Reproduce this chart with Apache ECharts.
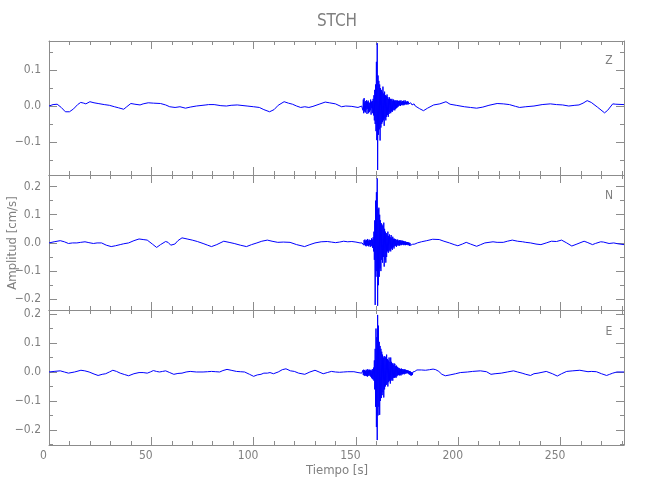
<!DOCTYPE html>
<html>
<head>
<meta charset="utf-8">
<script src="https://cdn.jsdelivr.net/npm/echarts@6/dist/echarts.min.js"></script>
<style>
html,body{margin:0;padding:0;background:#fff;}
#chart{width:650px;height:500px;}
</style>
</head>
<body>
<div id="chart"></div>
<script>
// ---------- data ----------
const stationName = 'STCH';
const componentNames = ['Z', 'N', 'E'];
const xRange = [0, 281];
const xMajorTicks = [0, 50, 100, 150, 200, 250];
const xMinorTicks = [10, 20, 30, 40, 60, 70, 80, 90, 110, 120, 130, 140, 160, 170, 180, 190, 210, 220, 230, 240, 260, 270, 280];

const zRange = [-0.192, 0.181];
const nRange = [-0.238, 0.241];
const eRange = [-0.252, 0.214];
const zMajorTicks = [-0.1, 0, 0.1];
const zMinorTicks = [-0.15, -0.05, 0.05, 0.15];
const nMajorTicks = [-0.2, -0.1, 0, 0.1, 0.2];
const nMinorTicks = [-0.15, -0.05, 0.05, 0.15];
const eMajorTicks = [-0.2, -0.1, 0, 0.1, 0.2];
const eMinorTicks = [-0.25, -0.15, -0.05, 0.05, 0.15];

// event window sampled every 0.2 s from 153 s
const eventStart = 153;
const eventStep = 0.2;

// ---- Z component ----
const zBefore = [[0,0.0],[2,0.004],[4,0.005],[6,-0.004],[8,-0.016],[10,-0.016],[12,-0.008],[14,0.004],[15.5,0.01],[17,0.008],[18,0.006],[20,0.012],[22,0.009],[24,0.007],[27,0.004],[29.5,0.002],[32,-0.002],[34,-0.005],[36.5,-0.009],[38,-0.002],[40,0.007],[42,0.005],[44.5,0.003],[46,0.006],[48.5,0.009],[51,0.008],[54.5,0.007],[57,0.003],[59,-0.002],[61.6,-0.004],[64,-0.002],[66.7,-0.006],[69,-0.003],[72,0.0],[76.7,0.003],[78,0.004],[80.7,0.004],[84,0.001],[86.7,0.0],[89,0.002],[92,0.003],[96.8,0.0],[100,-0.002],[102.8,-0.004],[105,-0.01],[107.8,-0.016],[110,-0.01],[112,0.002],[114.9,0.012],[117,0.008],[119,0.005],[121,0.0],[123,-0.004],[125,-0.002],[127,-0.004],[129,-0.001],[132,0.005],[135,0.011],[137,0.009],[140,0.006],[143,-0.002],[145,0.0],[148,-0.001],[151,-0.004],[152.8,0.0]];
const zEvent = [
 0.0, 0.004, -0.012, 0.018, -0.02, 0.022, -0.015, 0.01, -0.018, 0.014,
 -0.01, 0.016, -0.022, 0.012, -0.008, 0.015, -0.02, 0.01, -0.016, 0.008,
 -0.012, 0.018, -0.024, 0.012, -0.006, 0.014, -0.02, 0.02, -0.026, 0.03,
 -0.04, 0.045, -0.05, 0.06, -0.07, 0.123, -0.095, 0.175, -0.178, 0.085,
 -0.08, 0.07, -0.065, 0.06, -0.096, 0.05, -0.06, 0.045, -0.05, 0.04,
 -0.045, 0.054, -0.04, 0.035, -0.055, 0.04, -0.035, 0.03, -0.04, 0.028,
 -0.03, 0.032, -0.025, 0.025, -0.03, 0.02, -0.022, 0.024, -0.018, 0.02,
 -0.02, 0.018, -0.015, 0.02, -0.016, 0.015, -0.012, 0.018, -0.01, 0.015,
 -0.012, 0.016, -0.008, 0.014, -0.006, 0.016, -0.004, 0.015, -0.002, 0.014,
 0.0, 0.015, 0.002, 0.014, 0.0, 0.016, 0.003, 0.012, 0.002, 0.014,
 0.004, 0.015, 0.002, 0.012, 0.004, 0.016, 0.005, 0.013, 0.004, 0.012,
 0.006, 0.013, 0.004, 0.012, 0.006, 0.011, 0.004, 0.01, 0.005, 0.009,
 0.004, 0.01, 0.003, 0.008, 0.004, 0.007, 0.002, 0.006, 0.001, 0.004,
 0.0, 0.003, -0.002, 0.001, -0.004, -0.003];
const zAfter = [[181,-0.007],[183,-0.013],[185,-0.006],[188,0.003],[191,0.006],[194,0.012],[196,0.005],[199,0.002],[203,-0.002],[206,-0.004],[209,-0.006],[212,-0.003],[215,0.002],[219,0.007],[222,0.006],[225,0.004],[228,-0.001],[230,-0.004],[233,-0.002],[237,0.0],[241,0.004],[245,0.006],[248,0.004],[251,0.003],[254,0.0],[257,0.002],[259,0.003],[261,0.008],[263,0.015],[265,0.01],[268,-0.003],[271.5,-0.019],[273,-0.012],[275.5,0.006],[277,0.005],[281,0.004]];

// ---- N component ----
const nBefore = [[0,0.0],[2.5,0.004],[5.5,0.008],[7.5,0.004],[9.5,-0.002],[11.5,0.0],[13.6,0.0],[15.5,0.002],[17.6,0.004],[19.5,0.001],[21.7,-0.002],[23.5,0.0],[25.7,0.0],[28,-0.008],[30.4,-0.013],[32.5,-0.01],[34.8,-0.006],[36.5,-0.003],[38.9,0.0],[41.5,0.008],[44,0.014],[46,0.012],[48,0.01],[50.5,-0.004],[52.6,-0.016],[54.5,-0.006],[57,0.005],[58.2,0.002],[59.5,-0.008],[61.5,-0.004],[63,0.008],[65,0.018],[67.5,0.014],[70,0.01],[72.5,0.005],[75.3,-0.002],[77.5,-0.008],[79.4,-0.013],[82,-0.006],[85.4,0.006],[88,0.002],[90.5,-0.002],[93.5,-0.008],[96.5,-0.013],[99,-0.006],[101.6,0.0],[104,0.006],[106.7,0.01],[109,0.006],[111.8,0.002],[114.5,0.003],[117.8,0.002],[121,-0.006],[124.9,-0.013],[127.5,-0.006],[130,0.0],[133,0.004],[136,0.005],[138,0.003],[140,0.001],[142,0.003],[144,0.006],[146,0.004],[148,0.005],[150,0.003],[152,0.0]];
const nEvent = [
 0.0, -0.002, 0.003, 0.006, -0.008, 0.01, -0.006, 0.012, -0.01, 0.008,
 -0.012, 0.01, -0.008, 0.014, -0.01, 0.008, -0.012, 0.012, -0.008, 0.01,
 -0.014, 0.01, -0.01, 0.016, -0.012, 0.012, -0.018, 0.02, -0.03, 0.04,
 -0.06, 0.08, -0.22, 0.15, -0.12, 0.18, -0.1, 0.229, -0.223, 0.12,
 -0.15, 0.125, -0.12, 0.1, -0.09, 0.08, -0.1, 0.07, -0.06, 0.065,
 -0.07, 0.06, -0.05, 0.072, -0.084, 0.05, -0.06, 0.04, -0.07, 0.035,
 -0.05, 0.03, -0.03, 0.04, -0.035, 0.025, -0.03, 0.03, -0.025, 0.02,
 -0.03, 0.028, -0.02, 0.018, -0.025, 0.022, -0.015, 0.015, -0.02, 0.015,
 -0.012, 0.014, -0.01, 0.012, -0.014, 0.01, -0.008, 0.012, -0.01, 0.008,
 -0.008, 0.01, -0.01, 0.008, -0.006, 0.01, -0.008, 0.006, -0.006, 0.008,
 -0.006, 0.007, -0.008, 0.005, -0.006, 0.006, -0.008, 0.004, -0.007, 0.003,
 -0.006, 0.003, -0.008, 0.002, -0.008, 0.001, -0.01, 0.0, -0.009, -0.002,
 -0.01, -0.004, -0.011, -0.005, -0.01, -0.006, -0.009, -0.005, -0.007, -0.004,
 -0.005, -0.003, -0.004, -0.002, -0.002, 0.0];
const nAfter = [[182,0.004],[184.6,0.008],[187.5,0.013],[190.7,0.012],[193,0.006],[195.7,0.0],[198,-0.006],[199.8,-0.01],[202,-0.004],[203.9,0.002],[206,-0.004],[209,-0.012],[211,-0.006],[213,0.0],[217,0.004],[219,0.002],[222,0.002],[224,0.006],[226.4,0.01],[229,0.006],[231.5,0.004],[233,0.002],[235.4,0.0],[238,-0.004],[240.4,-0.006],[243,0.0],[245.5,0.006],[248,0.005],[250.5,0.01],[253,0.0],[255.5,-0.011],[258,-0.004],[261.5,0.006],[263,0.002],[265.6,-0.006],[267,-0.002],[269.6,0.004],[271,0.003],[273.7,-0.002],[276,0.0],[278,-0.003],[281,-0.006]];

// ---- E component ----
const eBefore = [[0,0.0],[2.5,0.002],[5.5,0.004],[7.5,0.0],[9.5,-0.004],[12.5,0.0],[15.6,0.006],[17.5,0.004],[19.6,0.0],[22,-0.007],[24,-0.012],[26,-0.008],[27.7,-0.006],[29.5,0.0],[31.2,0.006],[33,0.002],[34.8,-0.004],[37,-0.009],[38.9,-0.013],[41.5,-0.006],[44,-0.002],[46,-0.002],[48,-0.004],[49.5,0.0],[51,0.005],[52.5,0.002],[54,0.0],[55.5,0.002],[57,0.004],[59,-0.002],[61,-0.008],[63,-0.005],[65,-0.004],[67,0.0],[69,0.002],[72,0.0],[75.3,0.0],[77.5,0.001],[79.4,0.002],[81.5,0.001],[83.4,0.0],[85,0.005],[87,0.009],[89,0.006],[91.6,0.002],[93.5,0.001],[95.6,0.0],[98,-0.008],[100,-0.015],[101.8,-0.01],[103.6,-0.008],[105,-0.004],[106.7,-0.004],[108,-0.002],[109.7,-0.006],[112,0.0],[114,0.008],[115.8,0.011],[118,0.004],[119.9,0.002],[122,-0.004],[125,-0.008],[127.5,0.0],[130,0.006],[132,0.0],[134,-0.006],[136,-0.002],[138,0.002],[140,0.0],[142,-0.001],[144,0.0],[146,0.001],[149,0.001],[151,-0.002],[152.8,-0.004]];
const eEvent = [
 0.0, -0.004, 0.006, -0.01, 0.008, -0.012, 0.006, -0.014, 0.004, -0.012,
 0.008, -0.014, 0.006, -0.016, 0.01, -0.012, 0.006, -0.014, 0.008, -0.01,
 0.006, -0.016, 0.008, -0.02, 0.004, -0.024, 0.01, -0.026, 0.015, -0.03,
 0.04, -0.06, 0.08, -0.12, 0.15, -0.19, 0.12, -0.235, 0.197, -0.15,
 0.16, -0.12, 0.104, -0.148, 0.09, -0.1, 0.08, -0.09, 0.07, -0.08,
 0.06, -0.07, 0.05, -0.088, 0.055, -0.06, 0.05, -0.05, 0.053, -0.045,
 0.06, -0.04, 0.045, -0.05, 0.04, -0.035, 0.05, -0.03, 0.035, -0.04,
 0.05, -0.03, 0.035, -0.025, 0.03, -0.03, 0.025, -0.02, 0.03, -0.02,
 0.028, -0.018, 0.02, -0.02, 0.022, -0.015, 0.018, -0.012, 0.015, -0.01,
 0.014, -0.012, 0.012, -0.01, 0.01, -0.012, 0.012, -0.008, 0.01, -0.008,
 0.01, -0.006, 0.008, -0.008, 0.009, -0.005, 0.008, -0.006, 0.007, -0.004,
 0.006, -0.004, 0.006, -0.006, 0.004, -0.008, 0.003, -0.01, 0.002, -0.012,
 0.0, -0.012, -0.002, -0.01, 0.0, -0.006, 0.002, -0.002, 0.004, 0.002,
 0.005, 0.003, 0.006, 0.005, 0.007, 0.006];
const eAfter = [[182,0.007],[184,0.006],[186,0.008],[187.7,0.01],[189,0.008],[190.5,0.002],[192,-0.008],[193.7,-0.013],[196,-0.01],[198.7,-0.006],[201,-0.002],[204.6,0.0],[207,0.002],[210.8,0.004],[213.8,0.001],[216,-0.008],[218,-0.006],[221,-0.004],[224,0.0],[227,0.004],[229,0.0],[231.2,-0.004],[233,-0.008],[235.3,-0.012],[237,-0.006],[239,-0.004],[243,0.002],[246,-0.006],[248.4,-0.014],[250.5,-0.006],[253,0.002],[256,0.004],[259.4,0.006],[261,0.004],[263.4,0.001],[265,0.002],[267.5,0.001],[270,-0.006],[272.5,-0.012],[274,-0.008],[275.5,-0.004],[277.5,0.0],[281,0.0]];

// ---------- build ----------
function buildTrace(before, ev, after) {
  const mid = ev.map((v, i) => [Math.round((eventStart + i * eventStep) * 10) / 10, v]);
  return before.concat(mid, after);
}
const traces = [
  buildTrace(zBefore, zEvent, zAfter),
  buildTrace(nBefore, nEvent, nAfter),
  buildTrace(eBefore, eEvent, eAfter)
];
const yRanges = [zRange, nRange, eRange];
const yMajors = [zMajorTicks, nMajorTicks, eMajorTicks];
const yMinors = [zMinorTicks, nMinorTicks, eMinorTicks];

const axisColor = '#8c8c8c';
const textColor = '#808080';
const fontFam = '"DejaVu Sans Condensed", "Liberation Sans Narrow", "DejaVu Sans", sans-serif';
const grids = [
  {left: 49, right: 26, top: 41, height: 134},
  {left: 49, right: 26, top: 175, height: 135},
  {left: 49, right: 26, top: 310, height: 135}
];

function fmtY(v) {
  const s = Math.abs(v).toFixed(1);
  return v < -1e-9 ? '\u2212' + s : s;
}

const xAxes = [], yAxes = [], series = [];
grids.forEach((g, gi) => {
  const mk = (pos, ticks, len, line, label) => ({
    type: 'value', gridIndex: gi, position: pos, min: xRange[0], max: xRange[1],
    axisLine: {show: line, onZero: false, lineStyle: {color: axisColor, width: 1}},
    axisTick: {show: true, inside: true, length: len, customValues: ticks, lineStyle: {color: axisColor, width: 1}},
    axisLabel: label ? {show: true, customValues: xMajorTicks, color: textColor, fontFamily: fontFam, fontSize: 12, margin: 5, padding: [0, 11, 0, 0]} : {show: false},
    splitLine: {show: false}
  });
  xAxes.push(mk('bottom', xMajorTicks, 8, true, gi === 2));
  xAxes.push(mk('bottom', xMinorTicks, 4, false, false));
  xAxes.push(mk('top', xMajorTicks, 8, true, false));
  xAxes.push(mk('top', xMinorTicks, 4, false, false));
  const mky = (pos, ticks, len, line, label) => ({
    type: 'value', gridIndex: gi, position: pos, min: yRanges[gi][0], max: yRanges[gi][1],
    axisLine: {show: line, onZero: false, lineStyle: {color: axisColor, width: 1}},
    axisTick: {show: true, inside: true, length: len, customValues: ticks, lineStyle: {color: axisColor, width: 1}},
    axisLabel: label ? {show: true, customValues: yMajors[gi], formatter: fmtY, color: textColor, fontFamily: fontFam, fontSize: 12, margin: 8} : {show: false},
    splitLine: {show: false}
  });
  yAxes.push(mky('left', yMajors[gi], 8, true, true));
  yAxes.push(mky('left', yMinors[gi], 4, false, false));
  yAxes.push(mky('right', yMajors[gi], 8, true, false));
  yAxes.push(mky('right', yMinors[gi], 4, false, false));
  series.push({
    type: 'line', xAxisIndex: gi * 4, yAxisIndex: gi * 4, data: traces[gi],
    showSymbol: false, symbol: 'none', sampling: null, clip: true,
    lineStyle: {color: '#0000ff', width: 1}, animation: false, silent: true
  });
});

const graphics = [
  {type: 'text', x: 337, y: 22, style: {text: stationName, fill: textColor, font: '17px ' + fontFam, textAlign: 'center', textVerticalAlign: 'middle'}},
  {type: 'text', x: 337, y: 471, style: {text: 'Tiempo [s]', fill: textColor, font: '13px ' + fontFam, textAlign: 'center', textVerticalAlign: 'middle'}},
  {type: 'text', x: 13, y: 243, rotation: Math.PI / 2, style: {text: 'Amplitud [cm/s]', fill: textColor, font: '13px ' + fontFam, textAlign: 'center', textVerticalAlign: 'middle'}},
  {type: 'text', x: 609, y: 61, style: {text: componentNames[0], fill: textColor, font: '12px ' + fontFam, textAlign: 'center', textVerticalAlign: 'middle'}},
  {type: 'text', x: 609, y: 196, style: {text: componentNames[1], fill: textColor, font: '12px ' + fontFam, textAlign: 'center', textVerticalAlign: 'middle'}},
  {type: 'text', x: 609, y: 332, style: {text: componentNames[2], fill: textColor, font: '12px ' + fontFam, textAlign: 'center', textVerticalAlign: 'middle'}}
];

const chart = echarts.init(document.getElementById('chart'), null, {renderer: 'canvas'});
chart.setOption({
  animation: false,
  backgroundColor: '#ffffff',
  grid: grids,
  xAxis: xAxes,
  yAxis: yAxes,
  series: series,
  graphic: graphics
});
</script>
</body>
</html>
